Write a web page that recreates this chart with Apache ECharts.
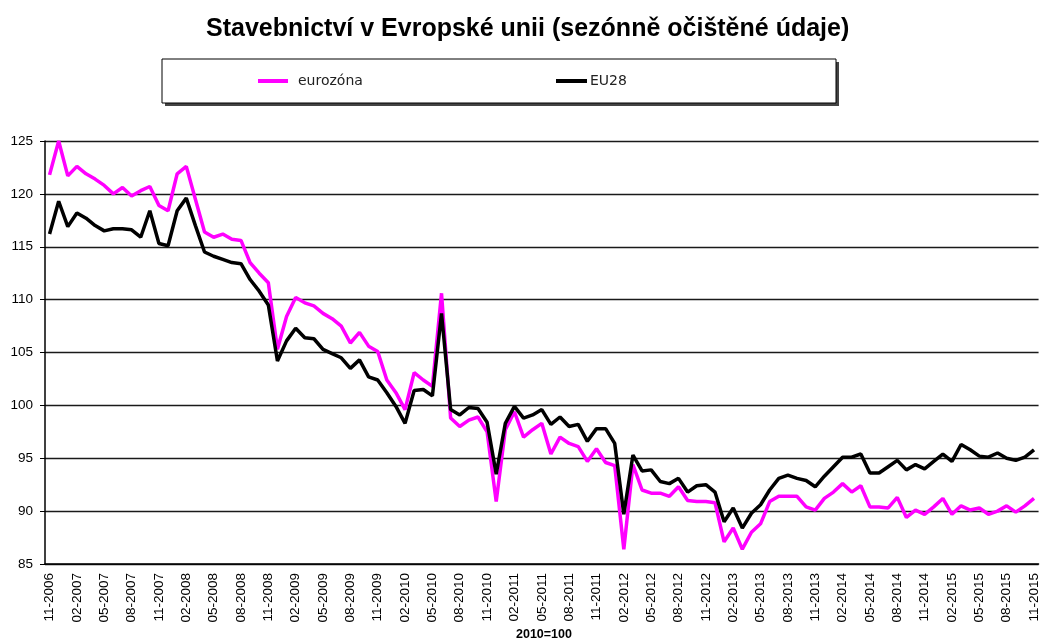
<!DOCTYPE html>
<html>
<head>
<meta charset="utf-8">
<script src="https://cdn.jsdelivr.net/npm/echarts@6/dist/echarts.min.js"></script>
<style>
html,body{margin:0;padding:0;background:#fff;}
#c{width:1041px;height:643px;}
</style>
</head>
<body>
<div id="c"></div>
<script>
var categories = [
'11-2006','12-2006',
'01-2007','02-2007','03-2007','04-2007','05-2007','06-2007','07-2007','08-2007','09-2007','10-2007','11-2007','12-2007',
'01-2008','02-2008','03-2008','04-2008','05-2008','06-2008','07-2008','08-2008','09-2008','10-2008','11-2008','12-2008',
'01-2009','02-2009','03-2009','04-2009','05-2009','06-2009','07-2009','08-2009','09-2009','10-2009','11-2009','12-2009',
'01-2010','02-2010','03-2010','04-2010','05-2010','06-2010','07-2010','08-2010','09-2010','10-2010','11-2010','12-2010',
'01-2011','02-2011','03-2011','04-2011','05-2011','06-2011','07-2011','08-2011','09-2011','10-2011','11-2011','12-2011',
'01-2012','02-2012','03-2012','04-2012','05-2012','06-2012','07-2012','08-2012','09-2012','10-2012','11-2012','12-2012',
'01-2013','02-2013','03-2013','04-2013','05-2013','06-2013','07-2013','08-2013','09-2013','10-2013','11-2013','12-2013',
'01-2014','02-2014','03-2014','04-2014','05-2014','06-2014','07-2014','08-2014','09-2014','10-2014','11-2014','12-2014',
'01-2015','02-2015','03-2015','04-2015','05-2015','06-2015','07-2015','08-2015','09-2015','10-2015','11-2015'
];

var eurozona = [
121.8,125.0,121.7,122.6,121.9,121.4,120.8,120.0,120.6,119.8,120.3,120.7,118.9,118.4,121.9,122.6,119.5,116.4,115.9,116.2,
115.7,115.6,113.5,112.5,111.6,105.3,108.4,110.2,109.7,109.4,108.7,108.2,107.5,105.9,106.9,105.6,105.1,102.4,101.2,99.6,
103.1,102.4,101.8,110.6,98.8,98.0,98.6,98.9,97.5,90.9,97.7,99.4,97.0,97.7,98.3,95.4,97.0,96.4,96.1,94.7,
95.9,94.6,94.3,86.4,94.4,92.0,91.7,91.7,91.4,92.3,91.0,90.9,90.9,90.8,87.1,88.4,86.4,88.0,88.8,90.9,
91.4,91.4,91.4,90.4,90.1,91.2,91.8,92.6,91.8,92.4,90.4,90.4,90.3,91.3,89.4,90.1,89.7,90.4,91.2,89.7,
90.5,90.1,90.3,89.7,90.0,90.5,89.9,90.5,91.2
];

var eu28 = [
116.2,119.3,116.9,118.2,117.7,117.0,116.5,116.7,116.7,116.6,115.9,118.4,115.3,115.1,118.4,119.6,117.0,114.5,114.1,113.8,
113.5,113.4,111.9,110.8,109.5,104.2,106.1,107.3,106.4,106.3,105.3,104.9,104.5,103.5,104.3,102.7,102.4,101.2,99.9,98.3,
101.4,101.5,100.9,108.7,99.6,99.1,99.8,99.7,98.4,93.5,98.3,99.9,98.8,99.1,99.6,98.2,98.9,98.0,98.2,96.6,
97.8,97.8,96.4,89.7,95.3,93.8,93.9,92.8,92.6,93.1,91.8,92.4,92.5,91.8,89.0,90.3,88.4,89.8,90.6,92.0,
93.1,93.4,93.1,92.9,92.3,93.3,94.2,95.1,95.1,95.4,93.6,93.6,94.2,94.8,93.9,94.4,94.0,94.7,95.4,94.7,
96.3,95.8,95.2,95.1,95.5,95.0,94.8,95.1,95.8
];

var seriesNames = ['eurozóna', 'EU28'];
var titleText = 'Stavebnictví v Evropské unii (sezónně očištěné údaje)';
var baseText = '2010=100';

var chart = echarts.init(document.getElementById('c'), null, {renderer: 'canvas'});
chart.setOption({
  backgroundColor: '#ffffff',
  animation: false,
  title: [{
    text: titleText,
    left: 206,
    top: 17,
    padding: 0,
    textStyle: {fontFamily: 'Liberation Sans', fontWeight: 'bold', fontSize: 25, color: '#000'}
  }, {
    text: baseText,
    left: 516,
    top: 628,
    padding: 0,
    textStyle: {fontFamily: 'Liberation Sans', fontWeight: 'bold', fontSize: 12.5, color: '#000'}
  }],
  graphic: [{
    type: 'rect',
    shape: {x: 165, y: 62, width: 674, height: 44},
    style: {fill: '#444'},
    z: 0
  }, {
    type: 'rect',
    shape: {x: 162, y: 59, width: 674, height: 44},
    style: {fill: '#fff', stroke: '#000', lineWidth: 1},
    z: 1
  }],
  legend: [{
    data: [seriesNames[0]],
    left: 258,
    top: 74,
    padding: 0,
    icon: 'rect',
    itemWidth: 30,
    itemHeight: 4,
    z: 5,
    textStyle: {fontFamily: 'DejaVu Sans', fontSize: 14, color: '#222', padding: [0, 0, 0, 5]}
  }, {
    data: [seriesNames[1]],
    left: 556,
    top: 74,
    padding: 0,
    icon: 'rect',
    itemWidth: 31,
    itemHeight: 4,
    z: 5,
    textStyle: {fontFamily: 'DejaVu Sans', fontSize: 14, color: '#222', padding: [0, 0, 0, -2]}
  }],
  grid: {left: 45, right: 0, top: 141, bottom: 79, containLabel: false},
  xAxis: {
    type: 'category',
    data: categories,
    boundaryGap: true,
    axisLine: {lineStyle: {color: '#000', width: 1.5}},
    axisTick: {interval: 2, length: 5, lineStyle: {color: '#000', width: 1}},
    axisLabel: {
      interval: 2,
      rotate: 90,
      margin: 9,
      fontFamily: 'Liberation Sans',
      fontSize: 13.5,
      color: '#000'
    },
    splitLine: {show: false}
  },
  yAxis: {
    type: 'value',
    min: 85,
    max: 125,
    interval: 5,
    axisLine: {show: true, lineStyle: {color: '#000', width: 1.5}},
    axisTick: {show: true, length: 5, lineStyle: {color: '#000'}},
    axisLabel: {margin: 12, fontFamily: 'Liberation Sans', fontSize: 13.5, color: '#000'},
    splitLine: {show: true, lineStyle: {color: '#1a1a1a', width: 1.3}}
  },
  series: [{
    name: seriesNames[0],
    type: 'line',
    data: eurozona,
    symbol: 'none',
    lineStyle: {color: '#ff00ff', width: 3.5},
    itemStyle: {color: '#ff00ff'},
    z: 3
  }, {
    name: seriesNames[1],
    type: 'line',
    data: eu28,
    symbol: 'none',
    lineStyle: {color: '#000000', width: 3.5},
    itemStyle: {color: '#000000'},
    z: 4
  }]
});
</script>
</body>
</html>
